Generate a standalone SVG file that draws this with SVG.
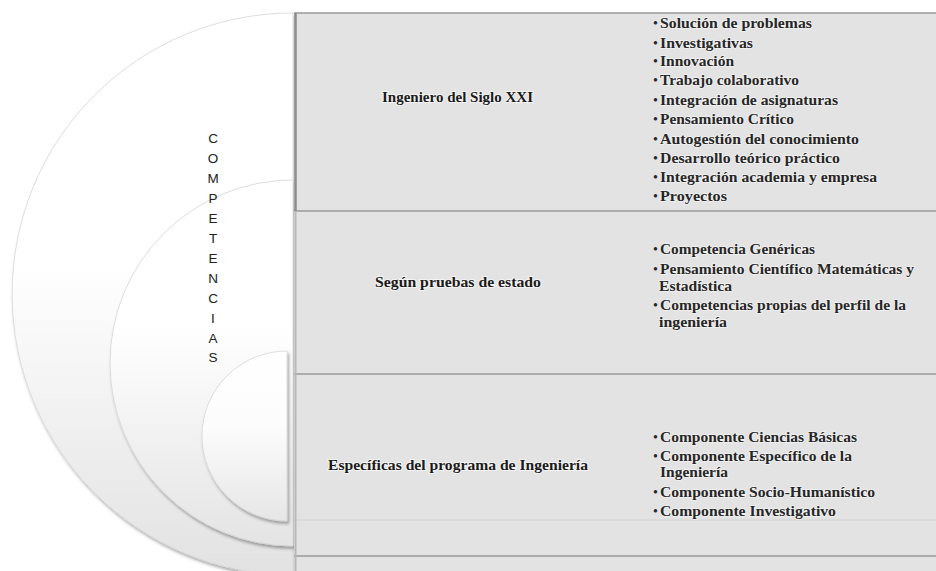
<svg xmlns="http://www.w3.org/2000/svg" width="936" height="571" viewBox="0 0 936 571">
<defs>
<linearGradient id="gOuter" x1="0" y1="0" x2="0" y2="1">
<stop offset="0" stop-color="#ffffff"/><stop offset="0.45" stop-color="#ffffff"/><stop offset="1" stop-color="#e2e2e2"/>
</linearGradient>
<linearGradient id="gMid" x1="0" y1="0" x2="0" y2="1">
<stop offset="0" stop-color="#ffffff"/><stop offset="0.4" stop-color="#ffffff"/><stop offset="1" stop-color="#e4e4e4"/>
</linearGradient>
<linearGradient id="gIn" x1="0" y1="0" x2="0" y2="1">
<stop offset="0" stop-color="#ffffff"/><stop offset="0.45" stop-color="#fcfcfc"/><stop offset="1" stop-color="#e6e6e6"/>
</linearGradient>
<filter id="shadow" x="-10%" y="-10%" width="125%" height="125%">
<feDropShadow dx="1.5" dy="2.5" stdDeviation="1.6" flood-color="#000" flood-opacity="0.35"/>
</filter>
<style>
.shape{stroke:#d6d6d6;stroke-width:0.8;filter:url(#shadow)}
.panel{fill:#e3e3e3}
.div{stroke:#9a9a9a;stroke-width:1.5}
.lbl{font-family:"Liberation Serif",serif;font-weight:bold;font-size:14.5px;fill:#1a1a1a;text-anchor:middle;stroke:#ffffff;stroke-width:2;stroke-opacity:0.6;paint-order:stroke}
.li{font-family:"Liberation Serif",serif;font-weight:bold;font-size:14px;fill:#262626;stroke:#ffffff;stroke-width:1.6;stroke-opacity:0.55;paint-order:stroke}
.bul{font-family:"Liberation Serif",serif;font-size:14px;fill:#262626}
.vt{font-family:"Liberation Sans",Arial,sans-serif;font-size:13.5px;fill:#222;text-anchor:middle}
</style>
</defs>
<rect width="936" height="571" fill="#ffffff"/>
<g id="competencias">
<path class="shape" d="M293,13 A281,281 0 0 0 293,575 Z" fill="url(#gOuter)"/>
<path class="shape" d="M293,180 A183,183 0 0 0 293,546 Z" fill="url(#gMid)"/>
<path class="shape" d="M287,351 A85,85 0 0 0 287,521 Z" fill="url(#gIn)"/>
<g class="vt">
<text x="213" y="143">C</text><text x="213" y="163">O</text><text x="213" y="183">M</text><text x="213" y="203">P</text>
<text x="213" y="223">E</text><text x="213" y="243">T</text><text x="213" y="263">E</text><text x="213" y="283">N</text>
<text x="213" y="303">C</text><text x="213" y="323">I</text><text x="213" y="343">A</text><text x="213" y="362">S</text>
</g>
</g>
<g id="panels">
<rect class="panel" x="294" y="13" width="642" height="558"/>
<line x1="294" y1="520" x2="936" y2="520" stroke="#d2d2d2" stroke-width="1"/>
<line class="div" x1="294" y1="13" x2="936" y2="13"/>
<line class="div" x1="294" y1="211" x2="936" y2="211"/>
<line class="div" x1="294" y1="374" x2="936" y2="374" stroke="#a8a8a8"/>
<line class="div" x1="294" y1="556" x2="936" y2="556"/>
<line x1="295.5" y1="13" x2="295.5" y2="211" stroke="#8c8c8c" stroke-width="2.5"/>
<line x1="295.5" y1="211" x2="295.5" y2="571" stroke="#b8b8b8" stroke-width="2"/>
</g>
<g id="row1">
<text class="lbl" x="457.5" y="102" textLength="151" lengthAdjust="spacingAndGlyphs">Ingeniero del Siglo XXI</text>
<g class="bul">
<text x="653" y="28">•</text><text x="653" y="47.5">•</text><text x="653" y="65.5">•</text><text x="653" y="85">•</text><text x="653" y="104.5">•</text>
<text x="653" y="124">•</text><text x="653" y="143.5">•</text><text x="653" y="162.5">•</text><text x="653" y="182">•</text><text x="653" y="201">•</text>
</g>
<text class="li" x="660" y="28" textLength="152" lengthAdjust="spacingAndGlyphs">Solución de problemas</text>
<text class="li" x="660" y="47.5" textLength="93" lengthAdjust="spacingAndGlyphs">Investigativas</text>
<text class="li" x="660" y="65.5" textLength="74" lengthAdjust="spacingAndGlyphs">Innovación</text>
<text class="li" x="660" y="85" textLength="139" lengthAdjust="spacingAndGlyphs">Trabajo colaborativo</text>
<text class="li" x="660" y="104.5" textLength="178" lengthAdjust="spacingAndGlyphs">Integración de asignaturas</text>
<text class="li" x="660" y="124" textLength="134" lengthAdjust="spacingAndGlyphs">Pensamiento Crítico</text>
<text class="li" x="660" y="143.5" textLength="199" lengthAdjust="spacingAndGlyphs">Autogestión del conocimiento</text>
<text class="li" x="660" y="162.5" textLength="180" lengthAdjust="spacingAndGlyphs">Desarrollo teórico práctico</text>
<text class="li" x="660" y="182" textLength="217" lengthAdjust="spacingAndGlyphs">Integración academia y empresa</text>
<text class="li" x="660" y="201" textLength="67" lengthAdjust="spacingAndGlyphs">Proyectos</text>
</g>
<g id="row2">
<text class="lbl" x="458" y="287" textLength="166" lengthAdjust="spacingAndGlyphs">Según pruebas de estado</text>
<g class="bul"><text x="653" y="254">•</text><text x="653" y="274">•</text><text x="653" y="310">•</text></g>
<text class="li" x="660" y="254" textLength="155" lengthAdjust="spacingAndGlyphs">Competencia Genéricas</text>
<text class="li" x="660" y="274" textLength="254" lengthAdjust="spacingAndGlyphs">Pensamiento Científico Matemáticas y</text>
<text class="li" x="659" y="291" textLength="73" lengthAdjust="spacingAndGlyphs">Estadística</text>
<text class="li" x="660" y="310" textLength="246" lengthAdjust="spacingAndGlyphs">Competencias propias del perfil de la</text>
<text class="li" x="659" y="327" textLength="68" lengthAdjust="spacingAndGlyphs">ingeniería</text>
</g>
<g id="row3">
<text class="lbl" x="458" y="470" textLength="260" lengthAdjust="spacingAndGlyphs">Específicas del programa de Ingeniería</text>
<g class="bul"><text x="653" y="442">•</text><text x="653" y="461">•</text><text x="653" y="497">•</text><text x="653" y="516">•</text></g>
<text class="li" x="660" y="442" textLength="197" lengthAdjust="spacingAndGlyphs">Componente Ciencias Básicas</text>
<text class="li" x="660" y="461" textLength="192" lengthAdjust="spacingAndGlyphs">Componente Específico de la</text>
<text class="li" x="660" y="477" textLength="68" lengthAdjust="spacingAndGlyphs">Ingeniería</text>
<text class="li" x="660" y="497" textLength="215" lengthAdjust="spacingAndGlyphs">Componente Socio-Humanístico</text>
<text class="li" x="660" y="516" textLength="176" lengthAdjust="spacingAndGlyphs">Componente Investigativo</text>
</g>
<g id="connectors"/>
</svg>
